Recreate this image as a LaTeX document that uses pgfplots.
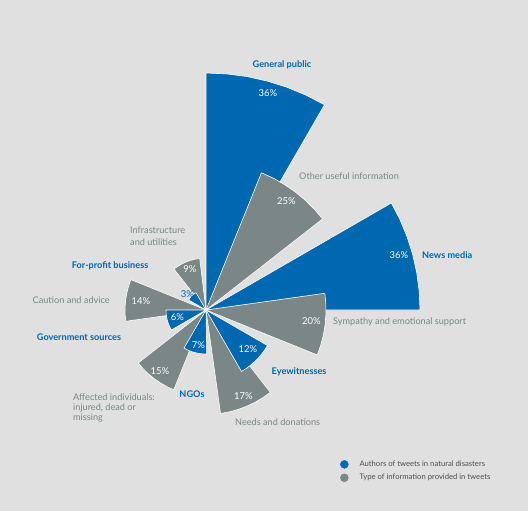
\documentclass[border=0pt]{standalone}
\usepackage{pgfplots}
\pgfplotsset{compat=1.18}
\usepgfplotslibrary{polar}
\usepackage{fontspec}
\setmainfont{Lato}
\definecolor{bgc}{HTML}{DFE0DF}
\definecolor{cblue}{HTML}{0067B1}
\definecolor{cgray}{HTML}{7A8786}
\definecolor{ltxt}{HTML}{4D4D4D}
\begin{document}
\begin{tikzpicture}
\useasboundingbox (0,0) rectangle (528bp,511bp);
\fill[bgc] (0,0) rectangle (528bp,511bp);
\begin{polaraxis}[
  at={(206bp,201bp)}, anchor=center,
  hide axis, scale only axis, width=480bp, height=480bp,
  xmin=0, xmax=360, ymin=0, ymax=240, clip=false,
  wedge/.style={draw=white, line width=0.6bp, line join=round, forget plot},
  legend style={at={(0.7729,0.1917)}, anchor=north west, draw=none, fill=none,
    font=\fontsize{7.7}{9.2}\selectfont, text=ltxt, row sep=5bp,
    nodes={inner sep=0pt},
    /tikz/every odd column/.append style={column sep=11bp}},
  legend cell align=left,
]
% authors (blue) under
\addplot[wedge, fill=cblue] coordinates {(90,0) (90,237) (85,237) (80,237) (75,237) (70,237) (65,237) (60,237) (60,0)} -- cycle;
\addplot[wedge, fill=cblue] coordinates {(30,0) (30,214) (25,214) (20,214) (15,214) (10,214) (5,214) (0,214) (0,0)} -- cycle;
% information (gray) over
\addplot[wedge, fill=cgray] coordinates {(68,0) (68,148) (63,148) (58,148) (53,148) (48,148) (43,148) (38,148) (38,0)} -- cycle;
\addplot[wedge, fill=cgray] coordinates {(8,0) (8,120) (3,120) (-2,120) (-7,120) (-12,120) (-17,120) (-22,120) (-22,0)} -- cycle;
% information (gray) under
\addplot[wedge, fill=cgray] coordinates {(-52,0) (-52,104.5) (-57,104.5) (-62,104.5) (-67,104.5) (-72,104.5) (-77,104.5) (-82,104.5) (-82,0)} -- cycle;
\addplot[wedge, fill=cgray] coordinates {(-112,0) (-112,86) (-117,86) (-122,86) (-127,86) (-132,86) (-137,86) (-142,86) (-142,0)} -- cycle;
\addplot[wedge, fill=cgray] coordinates {(188,0) (188,81) (183,81) (178,81) (173,81) (168,81) (163,81) (158,81) (158,0)} -- cycle;
\addplot[wedge, fill=cgray] coordinates {(128,0) (128,52) (123,52) (118,52) (113,52) (108,52) (103,52) (97,52) (97,0)} -- cycle;
% authors (blue) over
\addplot[wedge, fill=cblue] coordinates {(-30,0) (-30,71) (-35,71) (-40,71) (-45,71) (-50,71) (-55,71) (-60,71) (-60,0)} -- cycle;
\addplot[wedge, fill=cblue] coordinates {(-89,0) (-89,44) (-94,44) (-99,44) (-104,44) (-109,44) (-114,44) (-120,44) (-120,0)} -- cycle;
\addplot[wedge, fill=cblue] coordinates {(180,0) (180,40) (185,40) (190,40) (195,40) (200,40) (205,40) (210,40) (210,0)} -- cycle;
\addplot[wedge, fill=cblue] coordinates {(120,0) (120,20) (125,20) (130,20) (135,20) (140,20) (145,20) (150,20) (150,0)} -- cycle;
\addlegendimage{legend image code/.code={\fill[cblue] (4bp,0bp) circle (4bp);}}
\addlegendentry{Authors of tweets in natural disasters}
\addlegendimage{legend image code/.code={\fill[cgray] (4bp,0bp) circle (4bp);}}
\addlegendentry{Type of information provided in tweets}
\end{polaraxis}
\begin{scope}[every node/.style={inner sep=0pt, font=\fontsize{9.2}{11}\selectfont}]
% category labels
\node[text=cblue, font=\fontsize{9.2}{11}\selectfont\bfseries] at (282bp,446bp) {General public};
\node[text=cgray, anchor=west] at (299bp,335bp) {Other useful information};
\node[text=cblue, font=\fontsize{9.2}{11}\selectfont\bfseries, anchor=west] at (422bp,256bp) {News media};
\node[text=cgray, anchor=west] at (333bp,189.5bp) {Sympathy and emotional support};
\node[text=cblue, font=\fontsize{9.2}{11}\selectfont\bfseries, anchor=west] at (271.5bp,139.5bp) {Eyewitnesses};
\node[text=cgray, anchor=west] at (235bp,88.5bp) {Needs and donations};
\node[text=cblue, font=\fontsize{9.2}{11}\selectfont\bfseries] at (192bp,117bp) {NGOs};
\node[text=cgray, anchor=west] at (73bp,114.3bp) {Affected individuals:};
\node[text=cgray, anchor=west] at (73bp,103.3bp) {injured, dead or};
\node[text=cgray, anchor=west] at (73bp,92.7bp) {missing};
\node[text=cblue, font=\fontsize{9.2}{11}\selectfont\bfseries, anchor=west] at (36.7bp,174.3bp) {Government sources};
\node[text=cgray, anchor=west] at (32.5bp,211bp) {Caution and advice};
\node[text=cblue, font=\fontsize{9.2}{11}\selectfont\bfseries, anchor=west] at (71.7bp,245.3bp) {For-profit business};
\node[text=cgray, anchor=west] at (130bp,280.3bp) {Infrastructure};
\node[text=cgray, anchor=west] at (130bp,269.3bp) {and utilities};
% percentages
\begin{scope}[every node/.style={inner sep=0pt, text=white, font=\fontsize{9.5}{11}\selectfont}]
\node at (268bp,417.5bp) {36\%};
\node at (286.5bp,310bp) {25\%};
\node at (399bp,256bp) {36\%};
\node at (311.5bp,189.5bp) {20\%};
\node at (248bp,161.5bp) {12\%};
\node at (243.5bp,115bp) {17\%};
\node at (198.5bp,165.5bp) {7\%};
\node at (160bp,139.5bp) {15\%};
\node at (177.5bp,193.5bp) {6\%};
\node at (141bp,210bp) {14\%};
\node[text=cblue] at (187.5bp,217bp) {3\%};
\node at (190bp,242bp) {9\%};
\end{scope}
\end{scope}
\end{tikzpicture}
\end{document}
